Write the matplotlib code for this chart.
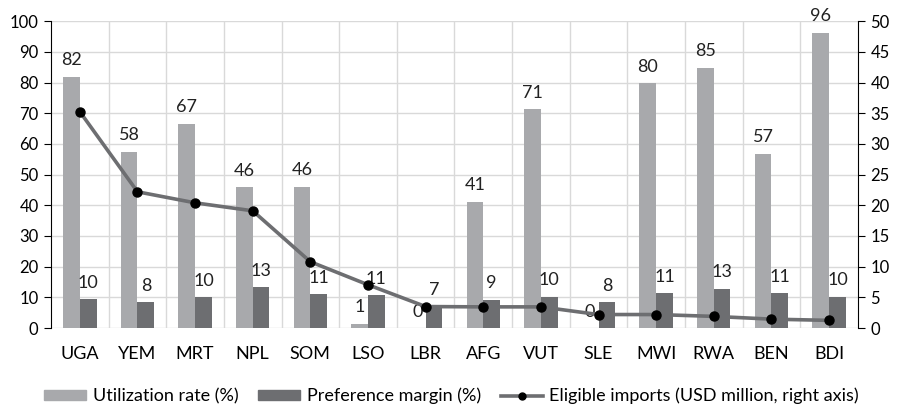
import matplotlib.pyplot as plt
import numpy as np
from matplotlib.patches import Patch
from matplotlib.lines import Line2D

plt.rcParams['font.family'] = ['Lato', 'DejaVu Sans']
plt.rcParams['font.size'] = 12

countries = ['UGA', 'YEM', 'MRT', 'NPL', 'SOM', 'LSO', 'LBR', 'AFG', 'VUT', 'SLE', 'MWI', 'RWA', 'BEN', 'BDI']
utilization = [81.9, 57.5, 66.6, 46.0, 46.1, 1.4, 0, 41.2, 71.3, 0, 79.8, 84.8, 56.8, 96.3]
margin = [9.5, 8.4, 10.0, 13.4, 11.0, 10.7, 7.0, 9.2, 10.2, 8.4, 11.4, 12.8, 11.4, 10.2]
imports = [35.25, 22.2, 20.4, 19.1, 10.8, 7.05, 3.5, 3.45, 3.45, 2.2, 2.2, 1.9, 1.45, 1.25]

c_light = '#a8a9ac'
c_dark = '#6d6e71'
grid_c = '#d9d9d9'

fig, ax = plt.subplots(figsize=(9.03, 4.07), dpi=100)
fig.subplots_adjust(left=0.0565, right=0.950, top=0.948, bottom=0.194)
ax2 = ax.twinx()

x = np.arange(len(countries))
w = 0.29
b1 = ax.bar(x - w / 2, utilization, w, color=c_light, zorder=2)
b2 = ax.bar(x + w / 2, margin, w, color=c_dark, zorder=2)

for bars, vals in ((b1, utilization), (b2, margin)):
    for rect, v in zip(bars, vals):
        ax.annotate(f'{v:.0f}', (rect.get_x() + rect.get_width() / 2, rect.get_height()),
                    xytext=(0, 6), textcoords='offset points', ha='center', va='bottom',
                    fontsize=13, color='#222222', zorder=5)

ax2.plot(x, imports, color=c_dark, lw=2.6, marker='o', ms=6.5,
         mfc='black', mec='black', zorder=4)

ax.set_xlim(-0.5, len(countries) - 0.5)
ax.set_ylim(0, 100)
ax2.set_ylim(0, 50)
ax.set_yticks(range(0, 101, 10))
ax2.set_yticks(range(0, 51, 5))
ax.set_xticks(x)
ax.set_xticklabels(countries, fontsize=13)

# grid: horizontal at each tick, vertical between categories
ax.yaxis.grid(True, color=grid_c, lw=1, zorder=0)
for b in np.arange(0.5, len(countries) - 0.5, 1):
    ax.axvline(b, color=grid_c, lw=1, zorder=0)
ax.set_axisbelow(True)

for a in (ax, ax2):
    a.spines['top'].set_visible(False)
    a.spines['bottom'].set_visible(False)
ax.spines['right'].set_visible(False)
ax.spines['left'].set_color('black')
ax2.spines['left'].set_visible(False)
ax2.spines['right'].set_color('black')
ax.tick_params(axis='x', length=0, pad=13)
ax.tick_params(axis='y', length=5, direction='out', pad=4)
ax2.tick_params(axis='y', length=5, direction='out', pad=4)

ax.set_zorder(ax2.get_zorder() - 1)
ax.patch.set_visible(True)
ax2.patch.set_visible(False)

handles = [Patch(color=c_light, label='Utilization rate (%)'),
           Patch(color=c_dark, label='Preference margin (%)'),
           Line2D([], [], color=c_dark, lw=2.6, marker='o', ms=5, mfc='black', mec='black',
                  label='Eligible imports (USD million, right axis)')]
fig.legend(handles=handles, loc='center', bbox_to_anchor=(0.5, 0.027), ncol=3, frameon=False,
           fontsize=13, handlelength=2.33, handleheight=0.5, columnspacing=1.1, handletextpad=0.35)

fig.savefig('out.png', dpi=100)
